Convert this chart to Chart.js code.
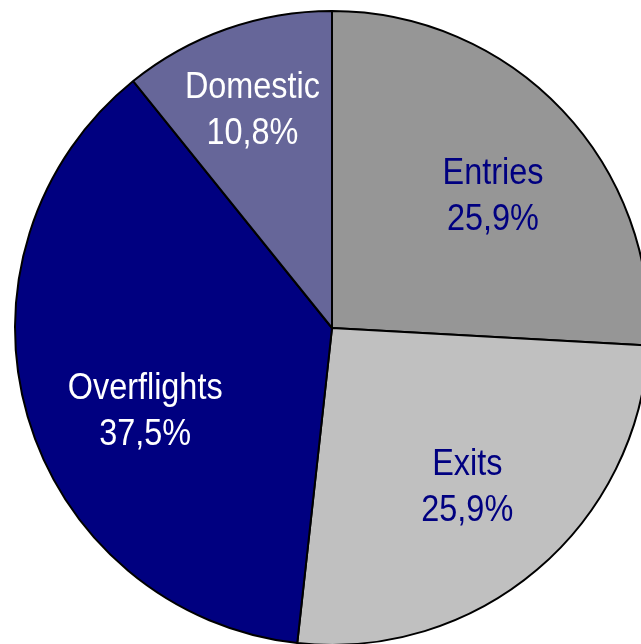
<!DOCTYPE html>
<html>
<head>
  <title>Traffic pie</title>
  <script src="https://cdn.jsdelivr.net/npm/chart.js"></script>
  <style>
    html, body { margin: 0; padding: 0; background: #fff; overflow: hidden; }
    #wrap { width: 641px; height: 644px; overflow: hidden; position: relative; }
    canvas { position: absolute; left: 0; top: 0; }
  </style>
</head>
<body>
  <div id="wrap">
    <canvas id="pieChart" width="664" height="656"></canvas>
  </div>

<script>
  // traffic categories and their shares (%)
  const categories = ['Entries', 'Exits', 'Overflights', 'Domestic'];
  const shares = [25.9, 25.9, 37.5, 10.8];

  const sliceColors = ['#969696', '#c0c0c0', '#000080', '#666699'];
  const textColors = ['#000080', '#000080', '#ffffff', '#ffffff'];
  // small nudges of the label block away from the slice centroid
  const labelNudge = [[9, 13], [0, 0], [14, 25], [-10, -20]];

  // format a share the way the source does: decimal comma
  function pct(v) {
    return v.toFixed(1).replace('.', ',') + '%';
  }

  // draws "Name / xx,x%" inside each slice
  const sliceLabels = {
    id: 'sliceLabels',
    afterDatasetsDraw(chart) {
      const ctx = chart.ctx;
      const meta = chart.getDatasetMeta(0);
      meta.data.forEach((arc, i) => {
        const p = arc.getProps(['x', 'y', 'startAngle', 'endAngle', 'outerRadius'], true);
        const mid = (p.startAngle + p.endAngle) / 2;
        const r = p.outerRadius * 0.66;
        const cx = p.x + Math.cos(mid) * r + labelNudge[i][0];
        const cy = p.y + Math.sin(mid) * r + labelNudge[i][1];
        ctx.save();
        ctx.translate(cx, cy);
        ctx.scale(0.9, 1); // the source font is a bit condensed
        ctx.font = '36px "Liberation Sans", sans-serif';
        ctx.textAlign = 'center';
        ctx.textBaseline = 'middle';
        ctx.fillStyle = textColors[i];
        ctx.fillText(categories[i], 0, -23);
        ctx.fillText(pct(shares[i]), 0, 23);
        ctx.restore();
      });
    }
  };

  const ctx = document.getElementById('pieChart').getContext('2d');

  const pieChart = new Chart(ctx, {
    type: 'pie',
    data: {
      labels: categories,
      datasets: [{
        data: shares,
        backgroundColor: sliceColors,
        borderColor: '#000000',
        borderWidth: 2,
        radius: 317
      }]
    },
    options: {
      responsive: false,
      animation: false,
      layout: { padding: 0 },
      plugins: {
        legend: { display: false },
        tooltip: { enabled: false }
      }
    },
    plugins: [sliceLabels]
  });
</script>
</body>
</html>
